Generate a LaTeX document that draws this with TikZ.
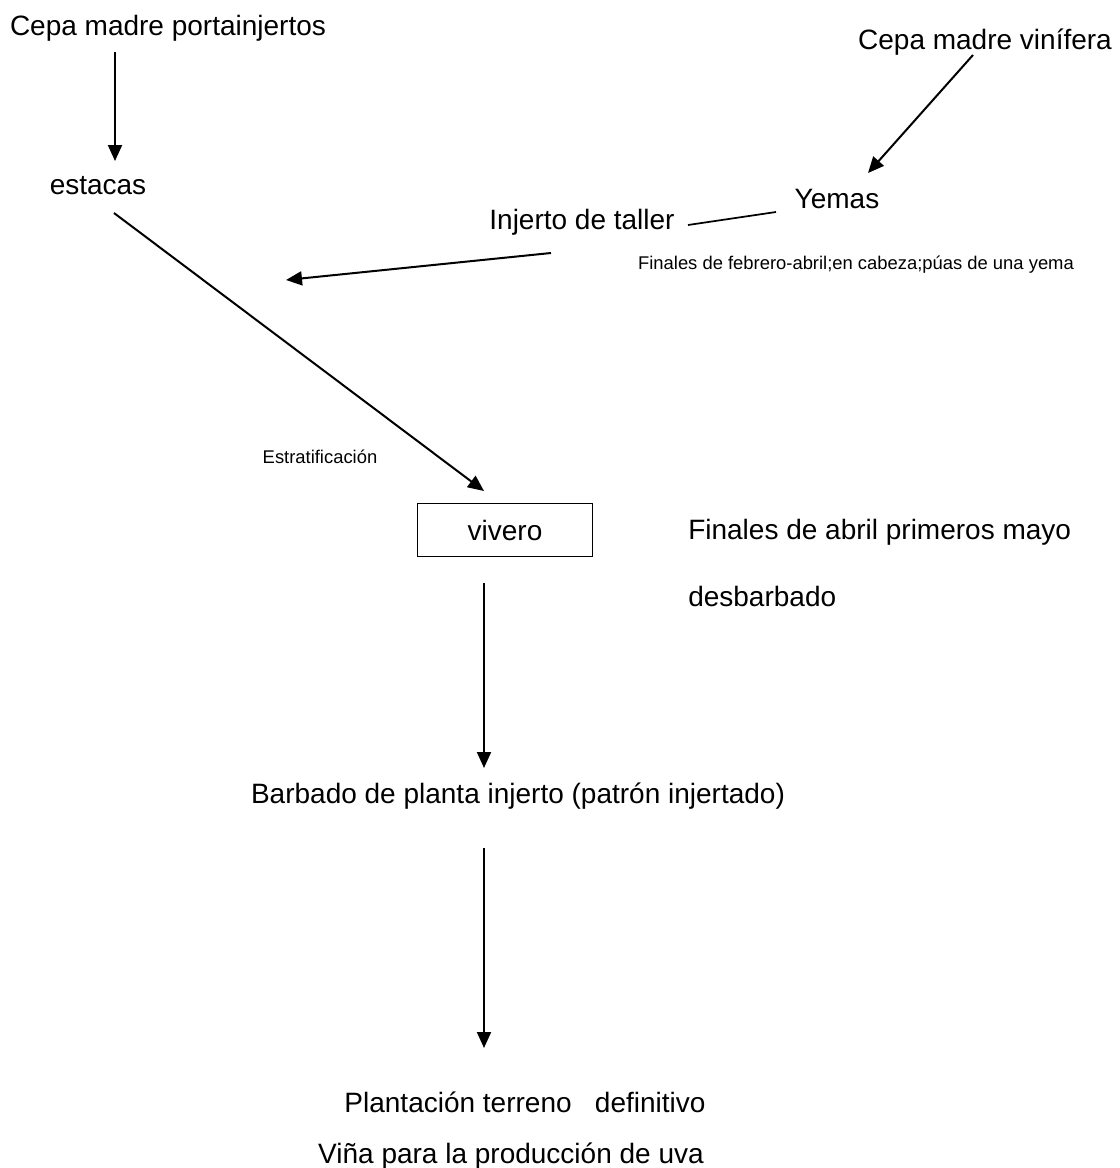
\documentclass[tikz,border=0pt]{standalone}
\usepackage{fontspec}
\setmainfont{Liberation Sans}
\usetikzlibrary{arrows.meta}
\begin{document}
\begin{tikzpicture}[x=0.75pt,y=-0.75pt,
  big/.style={font=\fontsize{21}{25}\selectfont, inner sep=0pt},
  small/.style={font=\fontsize{13.8}{16}\selectfont, inner sep=0pt},
  conn/.style={line width=1.5pt, -{Triangle[length=12pt,width=10.5pt]}},
  plain/.style={line width=1.3pt},
  boxed/.style={draw, line width=1.2pt, minimum width=131pt, minimum height=40pt, inner sep=0pt}]
\useasboundingbox (0,0) rectangle (1120,1168);
\node[big] (cpm) at (168,28) {Cepa madre portainjertos};
\node[big] (est) at (98,186) {estacas};
\node[big] (cmv) at (985,42) {Cepa madre vinífera};
\node[big] (yem) at (837,199) {Yemas};
\node[big] (inj) at (582,222) {Injerto de taller};
\node[small] (fin1) at (856,265) {Finales de febrero-abril;en cabeza;púas de una yema};
\node[small] (estr) at (320,457) {Estratificación};
\node[big,boxed] (viv) at (505,530) {vivero};
\node[big,anchor=west] (fam) at (688,532) {Finales de abril primeros mayo};
\node[big,anchor=west] (des) at (688,596) {desbarbado};
\node[big] (bar) at (518,796) {Barbado de planta injerto (patrón injertado)};
\node[big] (pla) at (525,1102) {Plantación terreno\ \ \ definitivo};
\node[big] (vin) at (511,1156) {Viña para la producción de uva};

\coordinate (a1s) at (115,52);  \coordinate (a1e) at (115,161);
\coordinate (a2s) at (973,55);  \coordinate (a2e) at (868,173);
\coordinate (l1s) at (688,225); \coordinate (l1e) at (776,212);
\coordinate (a3s) at (551,253); \coordinate (a3e) at (286,280);
\coordinate (a4s) at (114,213); \coordinate (a4e) at (484,491);
\coordinate (a5s) at (484,583); \coordinate (a5e) at (484,768);
\coordinate (a6s) at (484,848); \coordinate (a6e) at (484,1048);

\draw[conn] (a1s) -- (a1e);
\draw[conn] (a2s) -- (a2e);
\draw[plain] (l1s) -- (l1e);
\draw[conn] (a3s) -- (a3e);
\draw[conn] (a4s) -- (a4e);
\draw[conn] (a5s) -- (a5e);
\draw[conn] (a6s) -- (a6e);
\end{tikzpicture}
\end{document}
